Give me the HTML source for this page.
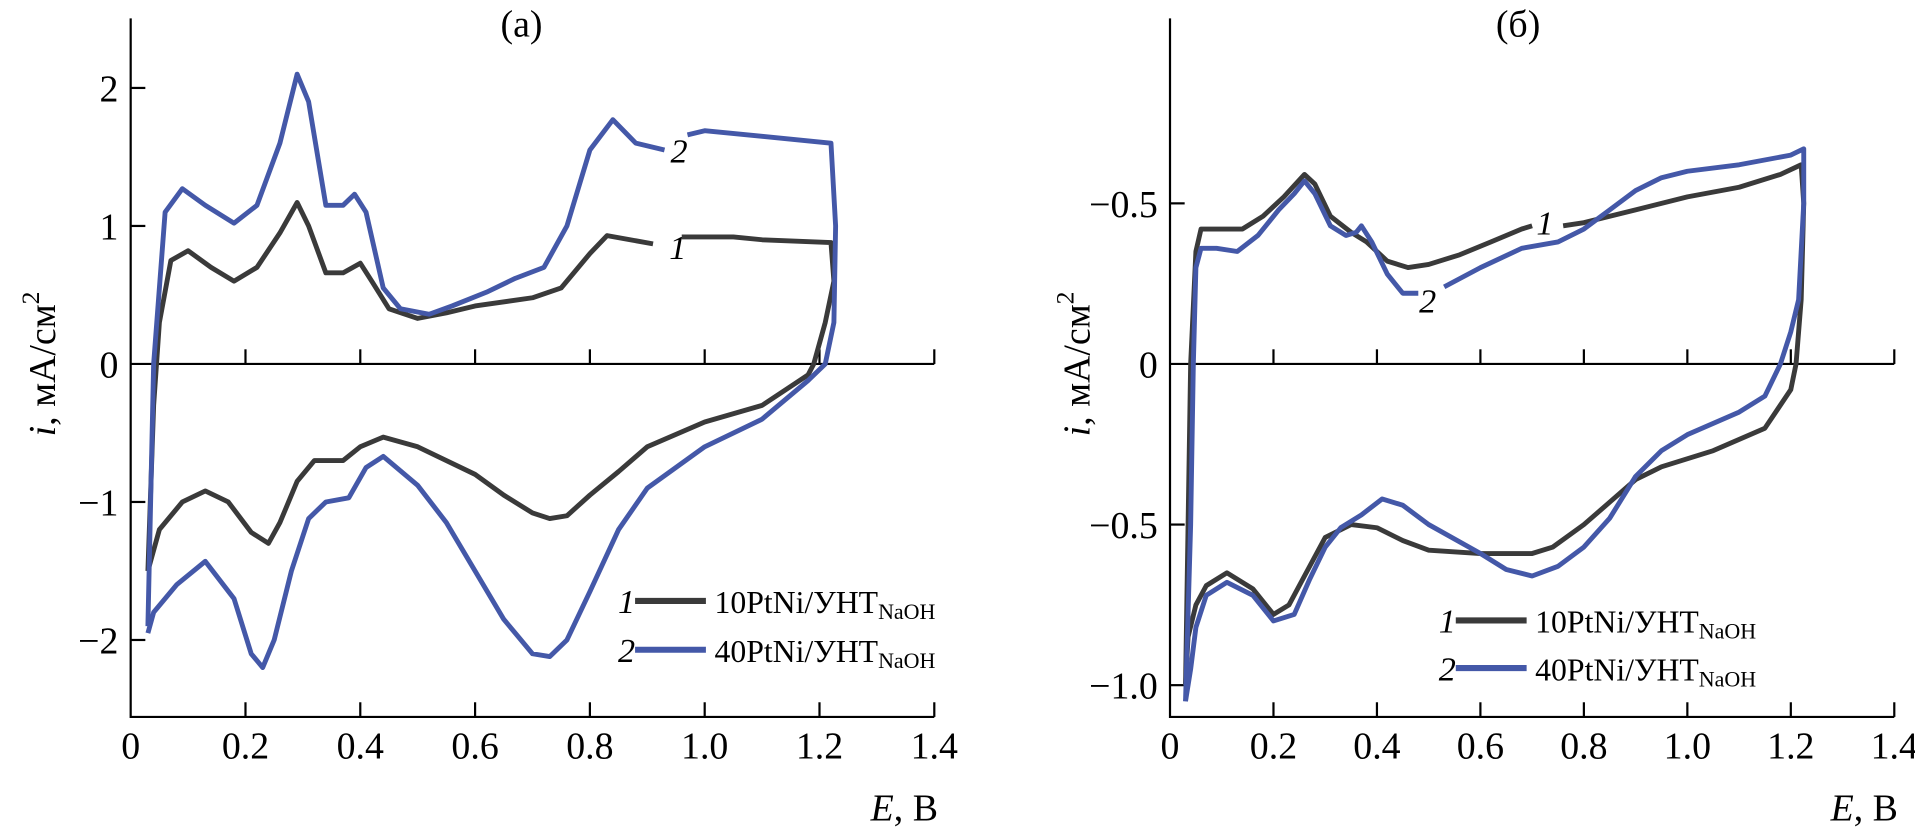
<!DOCTYPE html>
<html><head><meta charset="utf-8"><style>
body{margin:0;background:#fff;overflow:hidden;}
svg{display:block;font-family:"Liberation Serif",serif;}
</style></head><body>
<svg id="chart" width="1915" height="831" viewBox="0 0 1568 680.4"></svg>
<script>
// ----- panel (a) data -----
const aX1=[0.03,0.04,0.05,0.07,0.1,0.14,0.18,0.22,0.26,0.29,0.31,0.34,0.37,0.40,0.42,0.45,0.5,0.55,0.6,0.7,0.75,0.8,0.83,0.87,0.91];
const aY1=[-1.5,-0.3,0.3,0.75,0.82,0.7,0.6,0.7,0.95,1.17,1.0,0.66,0.66,0.73,0.6,0.4,0.33,0.37,0.42,0.48,0.55,0.8,0.93,0.9,0.87];
const aX1b=[0.96,1.05,1.1,1.22,1.225,1.21,1.19,1.18,1.1,1.0,0.9,0.85,0.8,0.76,0.73,0.7,0.65,0.6,0.5,0.44,0.4,0.37,0.32,0.29,0.26,0.24,0.21,0.17,0.13,0.09,0.05,0.03];
const aY1b=[0.92,0.92,0.9,0.88,0.6,0.3,0,-0.08,-0.3,-0.42,-0.6,-0.78,-0.95,-1.1,-1.12,-1.08,-0.95,-0.8,-0.6,-0.53,-0.6,-0.7,-0.7,-0.85,-1.15,-1.3,-1.22,-1.0,-0.92,-1.0,-1.2,-1.5];
const aX2=[0.03,0.04,0.06,0.09,0.13,0.18,0.22,0.26,0.29,0.31,0.34,0.37,0.39,0.41,0.44,0.47,0.52,0.56,0.62,0.67,0.72,0.76,0.80,0.84,0.88,0.93];
const aY2=[-1.9,0,1.1,1.27,1.15,1.02,1.15,1.6,2.1,1.9,1.15,1.15,1.23,1.1,0.55,0.4,0.36,0.42,0.52,0.62,0.7,1.0,1.55,1.77,1.6,1.55];
const aX2b=[0.97,1.0,1.1,1.22,1.228,1.225,1.21,1.18,1.1,1.0,0.9,0.85,0.8,0.76,0.73,0.70,0.65,0.6,0.55,0.5,0.44,0.41,0.38,0.34,0.31,0.28,0.25,0.23,0.21,0.18,0.13,0.08,0.04,0.03];
const aY2b=[1.66,1.69,1.65,1.6,1.0,0.3,0,-0.12,-0.4,-0.6,-0.9,-1.2,-1.65,-2.0,-2.12,-2.1,-1.85,-1.5,-1.15,-0.88,-0.67,-0.75,-0.97,-1.0,-1.12,-1.5,-2.0,-2.2,-2.1,-1.7,-1.43,-1.6,-1.8,-1.95];
const aYTicks=[2,1,0,-1,-2];
const aYLabels=["2","1","0","\u22121","\u22122"];
// ----- panel (b) data -----
const bX1=[0.03,0.035,0.04,0.05,0.06,0.1,0.14,0.18,0.22,0.26,0.28,0.31,0.35,0.38,0.42,0.46,0.5,0.56,0.62,0.68,0.70];
const bY1=[-1.0,-0.5,0,0.35,0.42,0.42,0.42,0.46,0.52,0.59,0.56,0.46,0.41,0.38,0.32,0.3,0.31,0.34,0.38,0.42,0.43];
const bX1b=[0.76,0.8,0.9,1.0,1.1,1.18,1.22,1.225,1.22,1.21,1.2,1.15,1.05,0.95,0.9,0.85,0.8,0.74,0.7,0.6,0.5,0.45,0.4,0.35,0.3,0.26,0.23,0.2,0.16,0.11,0.07,0.05,0.035,0.03];
const bY1b=[0.43,0.44,0.48,0.52,0.55,0.59,0.62,0.5,0.2,0,-0.08,-0.2,-0.27,-0.32,-0.36,-0.43,-0.5,-0.57,-0.59,-0.59,-0.58,-0.55,-0.51,-0.5,-0.54,-0.66,-0.75,-0.78,-0.7,-0.65,-0.69,-0.75,-0.85,-1.0];
const bX2=[0.03,0.04,0.045,0.05,0.06,0.09,0.13,0.17,0.21,0.24,0.26,0.28,0.31,0.34,0.36,0.37,0.39,0.42,0.45,0.48];
const bY2=[-1.05,-0.5,0,0.3,0.36,0.36,0.35,0.4,0.48,0.53,0.57,0.53,0.43,0.4,0.41,0.43,0.38,0.28,0.22,0.22];
const bX2b=[0.53,0.6,0.68,0.75,0.8,0.85,0.9,0.95,1.0,1.1,1.2,1.225,1.225,1.215,1.2,1.18,1.15,1.1,1.0,0.95,0.9,0.85,0.8,0.75,0.7,0.65,0.6,0.5,0.45,0.41,0.37,0.33,0.3,0.27,0.24,0.2,0.16,0.11,0.07,0.05,0.04,0.03];
const bY2b=[0.24,0.3,0.36,0.38,0.42,0.48,0.54,0.58,0.6,0.62,0.65,0.67,0.5,0.2,0.1,0,-0.1,-0.15,-0.22,-0.27,-0.35,-0.48,-0.57,-0.63,-0.66,-0.64,-0.59,-0.5,-0.44,-0.42,-0.47,-0.51,-0.57,-0.67,-0.78,-0.8,-0.72,-0.68,-0.72,-0.82,-0.95,-1.05];
const bYTicks=[0.5,0,-0.5,-1.0];
const bYLabels=["\u22120.5","0","\u22120.5","\u22121.0"];
const xTicks=[0,0.2,0.4,0.6,0.8,1.0,1.2,1.4];
const xLabels=["0","0.2","0.4","0.6","0.8","1.0","1.2","1.4"];

const NS="http://www.w3.org/2000/svg";
const svg=document.getElementById('chart');
function el(tag,attrs,parent,text){const e=document.createElementNS(NS,tag);for(const k in attrs)e.setAttribute(k,attrs[k]);if(text!==undefined)e.textContent=text;(parent||svg).appendChild(e);return e;}

function panel(cfg){
  const g=el('g',{});
  
  
  const sx=v=>cfg.x0+v*cfg.kx, sy=v=>cfg.y0-v*cfg.ky;
  const xR=sx(1.4), yB=587;
  const ax=el('path',{d:`M${cfg.x0},15 V${yB} H${xR}`,stroke:'#000','stroke-width':1.8,fill:'none'},g);
  
  
  const z=el('line',{x1:cfg.x0,x2:xR,y1:sy(0),y2:sy(0),stroke:'#000','stroke-width':1.8},g);
  
  
  xTicks.forEach((t,i)=>{
    const x=sx(t);
    if(i>0){el('line',{x1:x,x2:x,y1:yB,y2:yB-12,stroke:'#000','stroke-width':1.8},g);
      if(t<1.4)el('line',{x1:x,x2:x,y1:sy(0),y2:sy(0)-12,stroke:'#000','stroke-width':1.8},g);}
    const tl=el('text',{x:x,y:621,'font-size':31,'text-anchor':'middle'},g,xLabels[i]);
    
    
  });
  el('line',{x1:xR,x2:xR,y1:sy(0),y2:sy(0)-12,stroke:'#000','stroke-width':1.8},g);
  cfg.yt.forEach((t,i)=>{
    const y=sy(t);
    if(t!==0)el('line',{x1:cfg.x0,x2:cfg.x0+12,y1:y,y2:y,stroke:'#000','stroke-width':1.8},g);
    const tl=el('text',{x:cfg.x0-10,y:y+11,'font-size':31,'text-anchor':'end'},g,cfg.yl[i]);
    
    
  });
  const xt=el('text',{x:xR+3,y:672,'font-size':31,'text-anchor':'end'},g);
  
  
  xt.innerHTML='<tspan font-style="italic">E</tspan>, В';
  const yt=el('text',{transform:`translate(${cfg.ytx},298) rotate(-90)`,'font-size':31,'text-anchor':'middle'},g);
  
  
  yt.innerHTML='<tspan font-style="italic">i</tspan>, мА/см<tspan font-size="21" dy="-13">2</tspan>';
  const tt=el('text',{x:cfg.tx,y:30,'font-size':31,'text-anchor':'middle'},g,cfg.title);
  
  
  cfg.series.forEach(s=>{
    const d=s.xs.map((v,i)=>(i?'L':'M')+sx(v).toFixed(1)+','+sy(s.ys[i]).toFixed(1)).join(' ');
    const p=el('path',{d:d,stroke:s.c,'stroke-width':4,fill:'none','stroke-linejoin':'round'},g);
    
    
  });
  cfg.labels.forEach(l=>{
    const t=el('text',{x:l[0],y:l[1],'font-size':28,'font-style':'italic'},g,l[2]);
    
    
  });
  [[cfg.lg[1],'1','#3a3a3a','10PtNi/УНТ'],[cfg.lg[2],'2','#4458a8','40PtNi/УНТ']].forEach(r=>{
    const lx=cfg.lg[0], y=r[0];
    const le=el('g',{},g);
    
    
    el('text',{x:lx-14,y:y+10,'font-size':28,'font-style':'italic'},le,r[1]);
    el('line',{x1:lx,x2:lx+58,y1:y,y2:y,stroke:r[2],'stroke-width':5},le);
    const t=el('text',{x:lx+65,y:y+10,'font-size':26},le);
    t.innerHTML=r[3]+'<tspan font-size="18" dy="5">NaOH</tspan>';
  });
}
panel({name:'panel-a',x0:107,kx:470,y0:298,ky:113,yt:aYTicks,yl:aYLabels,ytx:45,tx:427,title:'(a)',
  series:[{xs:aX1,ys:aY1,c:'#3a3a3a',n:'curve-1-a'},{xs:aX1b,ys:aY1b,c:'#3a3a3a',n:'curve-1b-a'},
          {xs:aX2,ys:aY2,c:'#4458a8',n:'curve-2-a'},{xs:aX2b,ys:aY2b,c:'#4458a8',n:'curve-2b-a'}],
  labels:[[548,212,'1'],[549,133,'2']],lg:[520,492,532]});
panel({name:'panel-b',x0:958,kx:423.6,y0:298,ky:263,yt:bYTicks,yl:bYLabels,ytx:892,tx:1243,title:'(б)',
  series:[{xs:bX1,ys:bY1,c:'#3a3a3a',n:'curve-1-b'},{xs:bX1b,ys:bY1b,c:'#3a3a3a',n:'curve-1b-b'},
          {xs:bX2,ys:bY2,c:'#4458a8',n:'curve-2-b'},{xs:bX2b,ys:bY2b,c:'#4458a8',n:'curve-2b-b'}],
  labels:[[1258,192,'1'],[1162,256,'2']],lg:[1192,508,547]});
</script>
</body></html>
